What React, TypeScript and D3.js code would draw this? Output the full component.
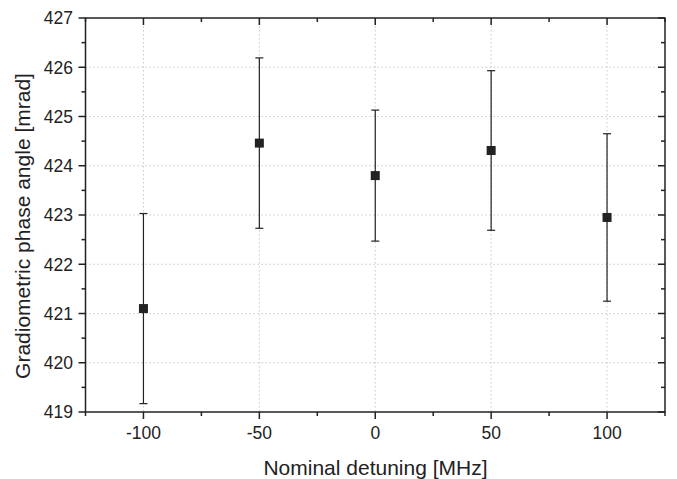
import React from "react";
import * as d3 from "d3";

const detuning = [-100, -50, 0, 50, 100];
const phase = [421.1, 424.46, 423.8, 424.31, 422.95];
const errors = [1.93, 1.73, 1.33, 1.62, 1.7];
const xTicks = [-100, -50, 0, 50, 100];
const yTicks = [419, 420, 421, 422, 423, 424, 425, 426, 427];

const W = 677;
const H = 479;
const m = { left: 85.5, right: 665, top: 18, bottom: 412 };

export default function App() {
  const x = d3.scaleLinear().domain([-125, 125]).range([m.left, m.right]);
  const y = d3.scaleLinear().domain([419, 427]).range([m.bottom, m.top]);
  const xMinor = d3.range(-125, 126, 25).filter((v) => !xTicks.includes(v));
  const yMinor = d3.range(419.5, 427, 1);
  const font = "Liberation Sans, Arial, sans-serif";
  const ax = "#222";
  return (
    <svg
      width={W}
      height={H}
      style={{ position: "absolute", left: 0, top: 0, background: "#fff" }}
      fontFamily={font}
    >
      {/* grid */}
      {xTicks.map((t) => (
        <line key={"gx" + t} x1={x(t)} x2={x(t)} y1={m.top} y2={m.bottom} stroke="#c8c8c8" strokeWidth={1} strokeDasharray="1.5,2.5" />
      ))}
      {yTicks.slice(1, -1).map((t) => (
        <line key={"gy" + t} x1={m.left} x2={m.right} y1={y(t)} y2={y(t)} stroke="#c8c8c8" strokeWidth={1} strokeDasharray="1.5,2.5" />
      ))}
      {/* error bars */}
      {detuning.map((d, i) => {
        const cx = x(d);
        const top = y(phase[i] + errors[i]);
        const bot = y(phase[i] - errors[i]);
        return (
          <g key={"e" + i} stroke="#222" strokeWidth={1.2}>
            <line x1={cx} x2={cx} y1={top} y2={bot} />
            <line x1={cx - 4} x2={cx + 4} y1={top} y2={top} />
            <line x1={cx - 4} x2={cx + 4} y1={bot} y2={bot} />
          </g>
        );
      })}
      {/* markers */}
      {detuning.map((d, i) => (
        <rect key={"p" + i} x={x(d) - 4.5} y={y(phase[i]) - 4.5} width={9} height={9} fill="#222" />
      ))}
      {/* frame */}
      <rect x={m.left} y={m.top} width={m.right - m.left} height={m.bottom - m.top} fill="none" stroke={ax} strokeWidth={1.5} />
      {/* bottom ticks outward, top ticks inward */}
      {xTicks.map((t) => (
        <g key={"xt" + t} stroke={ax} strokeWidth={1.5}>
          <line x1={x(t)} x2={x(t)} y1={m.bottom} y2={m.bottom + 7} />
          <line x1={x(t)} x2={x(t)} y1={m.top} y2={m.top + 7} />
        </g>
      ))}
      {xMinor.map((t) => (
        <g key={"xm" + t} stroke={ax} strokeWidth={1.5}>
          <line x1={x(t)} x2={x(t)} y1={m.bottom} y2={m.bottom + 4} />
          <line x1={x(t)} x2={x(t)} y1={m.top} y2={m.top + 4} />
        </g>
      ))}
      {yTicks.map((t) => (
        <g key={"yt" + t} stroke={ax} strokeWidth={1.5}>
          <line x1={m.left - 7} x2={m.left} y1={y(t)} y2={y(t)} />
          <line x1={m.right - 7} x2={m.right} y1={y(t)} y2={y(t)} />
        </g>
      ))}
      {yMinor.map((t) => (
        <g key={"ym" + t} stroke={ax} strokeWidth={1.5}>
          <line x1={m.left - 4} x2={m.left} y1={y(t)} y2={y(t)} />
          <line x1={m.right - 4} x2={m.right} y1={y(t)} y2={y(t)} />
        </g>
      ))}
      {/* tick labels */}
      {xTicks.map((t) => (
        <text key={"xl" + t} x={x(t)} y={439} textAnchor="middle" fontSize={17.5} fill="#222">
          {t}
        </text>
      ))}
      {yTicks.map((t) => (
        <text key={"yl" + t} x={73} y={y(t) + 6.3} textAnchor="end" fontSize={17.5} fill="#222">
          {t}
        </text>
      ))}
      {/* axis titles */}
      <text x={375.5} y={475} textAnchor="middle" fontSize={21} fill="#222">
        Nominal detuning [MHz]
      </text>
      <text
        transform={`translate(30,226) rotate(-90)`}
        textAnchor="middle"
        fontSize={21}
        fill="#222"
      >
        Gradiometric phase angle [mrad]
      </text>
    </svg>
  );
}
